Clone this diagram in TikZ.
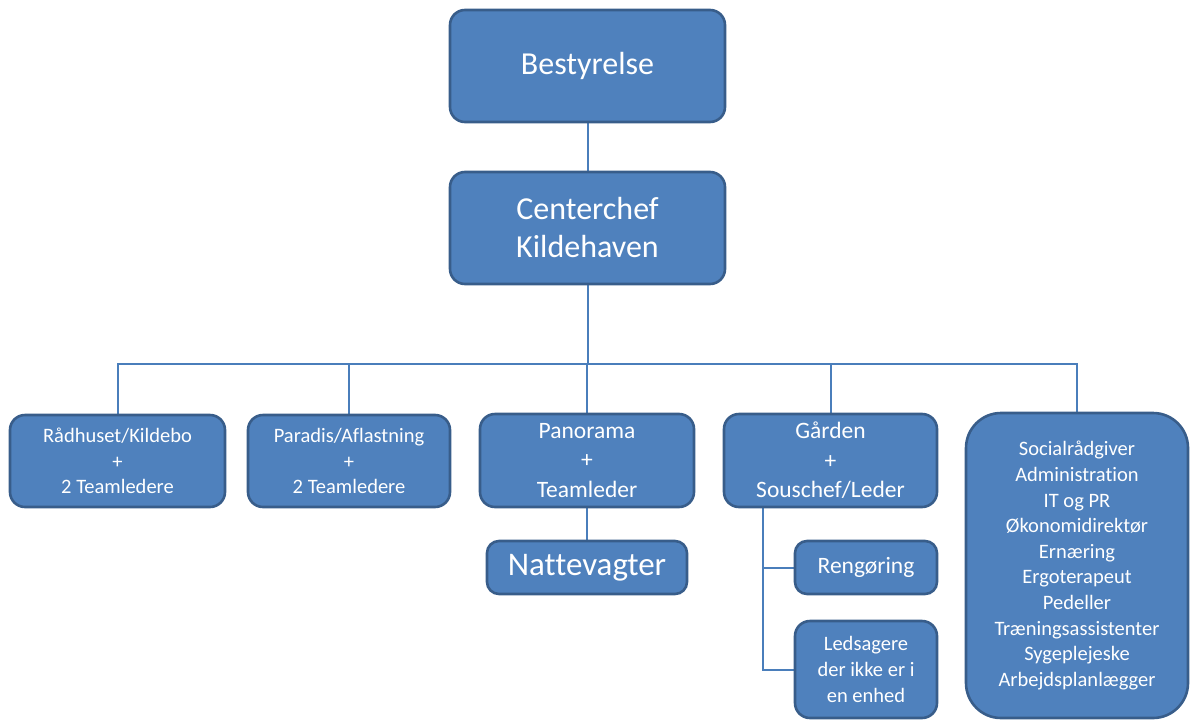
\documentclass[tikz,border=0pt]{standalone}
\usepackage{fontspec}
\setmainfont{Carlito}[Ligatures=NoCommon]
\usetikzlibrary{backgrounds,calc}
\definecolor{boxfill}{HTML}{4F81BD}
\definecolor{boxline}{HTML}{385D8A}
\definecolor{conn}{HTML}{4A7EBB}
\tikzset{
  orgbox/.style={draw=boxline, fill=boxfill, line width=2.6pt, rounded corners=15pt,
    text=white, align=center, inner sep=0pt},
  wire/.style={draw=conn, line width=2pt},
  fbig/.style={font=\fontsize{32}{38}\selectfont},
  fmid/.style={font=\fontsize{23.5}{29.5}\selectfont},
  fsmall/.style={font=\fontsize{20.5}{25.6}\selectfont},
}
\begin{document}
\begin{tikzpicture}[x=1pt,y=-1pt]
\useasboundingbox (0,0) rectangle (1190,720);
\node[orgbox,fbig,minimum width=275,minimum height=112] (b) at (587.5,66) {Bestyrelse};
\node[orgbox,fbig,minimum width=275,minimum height=112] (c) at (587.5,228) {Centerchef\\Kildehaven};
\node[orgbox,fsmall,minimum width=215,minimum height=92] (r) at (117.5,461) {Rådhuset/Kildebo\\+\\2 Teamledere};
\node[orgbox,fsmall,minimum width=202,minimum height=92] (p) at (349,461) {Paradis/Aflastning\\+\\2 Teamledere};
\node[orgbox,fmid,minimum width=214,minimum height=93] (pa) at (587,460.5) {Panorama\\+\\Teamleder};
\node[orgbox,fmid,minimum width=213,minimum height=93] (g) at (830.5,460.5) {Gården\\+\\Souschef/Leder};
\node[orgbox,fsmall,minimum width=222,minimum height=305,rounded corners=35pt] (s) at (1077,565.5)
  {Socialrådgiver\\Administrat\kern0pt ion\\IT og PR\\Økonomidirektør\\Ernæring\\Ergoterapeut\\Pedeller\\Træningsassistenter\\Sygeplejeske\\Arbejdsplanlægger};
\node[orgbox,font=\fontsize{33}{38}\selectfont,minimum width=200,minimum height=53,rounded corners=12pt] (n) at (587,567.5) {Nattevagter};
\node[orgbox,fmid,minimum width=142,minimum height=53,rounded corners=12pt] (rg) at (866,567.5) {Rengøring};
\node[orgbox,fsmall,minimum width=142,minimum height=97] (l) at (866,669.5) {Ledsagere\\der ikke er i\\en enhed};
\coordinate (bus) at (0,364);
\coordinate (gx) at ([xshift=40pt]g.south west);
\begin{pgfonlayer}{background}
\draw[wire] (b.south) -- (c.north);
\draw[wire] (c.south) -- (c.south |- bus);
\draw[wire] (r.north) |- (bus -| s.north) -- (s.north);
\draw[wire] (p.north) -- (p.north |- bus);
\draw[wire] (pa.north) -- (pa.north |- bus);
\draw[wire] (g.north) -- (g.north |- bus);
\draw[wire] (pa.south) -- (n.north);
\draw[wire] (gx) |- (l.west);
\draw[wire] (gx |- rg.west) -- (rg.west);
\end{pgfonlayer}
\end{tikzpicture}
\end{document}
